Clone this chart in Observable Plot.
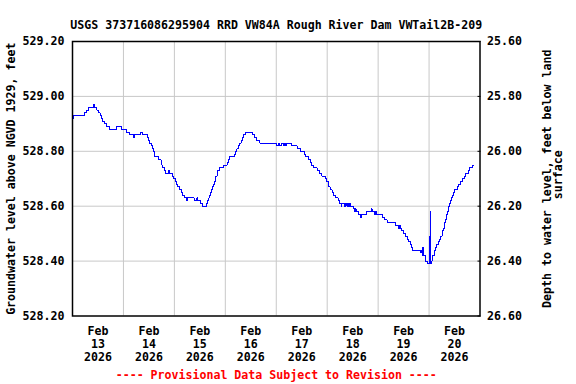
<!DOCTYPE html>
<html><head><meta charset="utf-8">
<script src="https://cdn.jsdelivr.net/npm/d3@7"></script>
<script src="https://cdn.jsdelivr.net/npm/@observablehq/plot@0.6"></script>
<style>body{margin:0;background:#fff}</style>
</head><body><div id="chart"></div>
<script>
const title = "USGS 373716086295904 RRD VW84A Rough River Dam VWTail2B-209";
const leftLabel = "Groundwater level above NGVD 1929, feet";
const rightLabel1 = "Depth to water level, feet below land";
const rightLabel2 = "surface";
const footer = "---- Provisional Data Subject to Revision ----";
const levelTicks = [528.2, 528.4, 528.6, 528.8, 529.0, 529.2];
const depthTickLabels = ["26.60", "26.40", "26.20", "26.00", "25.80", "25.60"];
const dayLabels = ["Feb\n13\n2026", "Feb\n14\n2026", "Feb\n15\n2026", "Feb\n16\n2026",
                   "Feb\n17\n2026", "Feb\n18\n2026", "Feb\n19\n2026", "Feb\n20\n2026"];

// hours since 2026-02-13 00:00 and groundwater level (ft above NGVD 1929)
const hours = [0, 0.3, 5.5, 6.5, 7.6, 10.0, 10.5, 11.5, 12.3, 13.0, 13.5, 14.2, 15.2, 16.2, 17.5,
  20.6, 23.3, 25.3, 26.9, 28.6, 29.0, 31.9, 33.2, 35.4, 35.9, 36.3, 37.0, 37.6, 38.2, 38.5, 38.8,
  40.6, 41.7, 42.1, 42.6, 43.4, 43.7, 45.4, 45.7, 46.9, 47.6, 48.4, 48.9, 49.5, 50.5, 51.2, 52.0,
  52.7, 53.8, 54.0, 57.4, 58.6, 59.0, 60.2, 61.3, 63.0, 63.6, 64.2, 64.6, 64.9, 65.4, 65.9, 66.5,
  67.0, 67.3, 67.6, 68.1, 68.5, 69.3, 71.2, 72.8, 73.4, 74.0, 76.2, 76.9, 77.5, 78.1, 78.8, 79.4,
  80.0, 80.7, 81.7, 84.9, 85.8, 86.9, 88.2, 96.3, 97.0, 97.6, 98.6, 99.5, 99.8, 100.5, 101.0, 103.4,
  105.8, 107.4, 109.2, 110.0, 111.3, 112.0, 112.4, 112.6, 112.8, 113.6, 115.2, 116.4, 117.5, 119.2,
  119.9, 120.4, 120.7, 121.5, 122.3, 123.0, 124.0, 125.1, 125.8, 126.6, 126.9, 128.3, 128.8, 129.3,
  129.8, 130.2, 130.5, 131.0, 132.5, 133.0, 133.3, 133.6, 134.9, 135.8, 136.0, 138.6, 140.9, 141.2,
  142.4, 142.8, 143.2, 146.0, 147.1, 148.2, 152.4, 153.5, 154.0, 154.5, 155.0, 156.1, 156.9, 157.7,
  158.4, 159.1, 159.6, 160.0, 164.0, 164.4, 164.7, 165.0, 165.2, 166.3, 167.1, 168.2, 168.3, 168.8,
  168.9, 169.1, 169.4, 169.7, 170.4, 170.7, 171.0, 171.6, 172.3, 172.9, 173.5, 174.1, 174.4, 174.6,
  175.1, 175.4, 175.7, 176.0, 176.3, 176.6, 177.0, 177.3, 177.6, 178.1, 178.5, 179.2, 179.5, 179.8,
  181.2, 182.0, 182.8, 183.6, 184.8, 185.4, 186.4, 187.0, 188.6, 189.3];
const levels = [528.92, 528.93, 528.94, 528.95, 528.96, 528.97, 528.96, 528.95, 528.94, 528.93, 528.92, 528.91, 528.90, 528.89, 528.88,
  528.89, 528.88, 528.87, 528.86, 528.85, 528.86, 528.87, 528.86, 528.85, 528.84, 528.83, 528.82, 528.81, 528.80, 528.79, 528.78,
  528.77, 528.76, 528.75, 528.74, 528.73, 528.72, 528.73, 528.72, 528.71, 528.70, 528.69, 528.68, 528.67, 528.66, 528.65, 528.64,
  528.63, 528.62, 528.63, 528.62, 528.63, 528.62, 528.61, 528.60, 528.61, 528.62, 528.63, 528.64, 528.65, 528.66, 528.67, 528.68,
  528.69, 528.70, 528.71, 528.72, 528.73, 528.74, 528.75, 528.76, 528.77, 528.78, 528.79, 528.80, 528.81, 528.82, 528.83, 528.84,
  528.85, 528.86, 528.87, 528.86, 528.85, 528.84, 528.83, 528.82, 528.83, 528.82, 528.83, 528.82, 528.83, 528.82, 528.83, 528.82,
  528.81, 528.80, 528.79, 528.78, 528.77, 528.76, 528.75, 528.76, 528.75, 528.74, 528.73, 528.72, 528.71, 528.70,
  528.69, 528.68, 528.67, 528.66, 528.65, 528.64, 528.63, 528.62, 528.61, 528.60, 528.61, 528.60, 528.61, 528.60,
  528.61, 528.60, 528.61, 528.60, 528.59, 528.58, 528.59, 528.58, 528.57, 528.56, 528.57, 528.58, 528.59, 528.58,
  528.57, 528.58, 528.57, 528.56, 528.55, 528.54, 528.53, 528.52, 528.53, 528.52, 528.51, 528.50, 528.49, 528.48,
  528.47, 528.46, 528.45, 528.44, 528.43, 528.44, 528.42, 528.45, 528.42, 528.40, 528.39, 528.49, 528.39, 528.58,
  528.39, 528.40, 528.41, 528.42, 528.43, 528.44, 528.45, 528.46, 528.47, 528.48, 528.49, 528.50, 528.51, 528.52,
  528.53, 528.54, 528.55, 528.56, 528.57, 528.58, 528.59, 528.60, 528.61, 528.62, 528.63, 528.64, 528.65, 528.66,
  528.67, 528.68, 528.69, 528.70, 528.71, 528.72, 528.73, 528.74, 528.75, 528.75];

const t0 = Date.UTC(2026, 1, 13);
const data = hours.map((h, i) => ({date: new Date(t0 + h * 3600000), level: levels[i]}));
const dayStarts = d3.range(0, 9).map(d => new Date(t0 + d * 86400000));
const dayNoons = d3.range(0, 8).map(d => new Date(t0 + (d + 0.5) * 86400000));

const chart = Plot.plot({
  width: 576, height: 384,
  marginLeft: 72, marginRight: 96.5, marginTop: 41, marginBottom: 68.5,
  style: {fontFamily: "'DejaVu Sans Mono', monospace", fontWeight: "bold", fontSize: "11.6px", background: "#fff", color: "#000"},
  x: {type: "utc", domain: [dayStarts[0], dayStarts[8]], axis: null},
  y: {domain: [528.2, 529.2]},
  marks: [
    Plot.gridX(dayStarts.slice(1, 8), {stroke: "#c8c8c8", strokeOpacity: 1}),
    Plot.gridY(levelTicks.slice(1, 5), {stroke: "#c8c8c8", strokeOpacity: 1}),
    Plot.line(data, {x: "date", y: "level", curve: "step-after", stroke: "#0000ff", strokeWidth: 1,
      shapeRendering: "crispEdges"}),
    Plot.frame({stroke: "#000", strokeWidth: 1.5}),
    Plot.axisY(levelTicks, {anchor: "left", tickSize: 0, tickPadding: 8, tickFormat: d => d.toFixed(2), label: null}),
    Plot.axisY(levelTicks, {anchor: "right", tickSize: -3, tickPadding: 10,
      tickFormat: d => depthTickLabels[levelTicks.indexOf(d)], label: null}),
    Plot.text(dayNoons, {x: d => d, frameAnchor: "bottom", text: (d, i) => dayLabels[i],
      lineAnchor: "top", dy: 10, lineHeight: 1.12}),
    Plot.text([title], {frameAnchor: "top", text: d => d, dy: -21}),
    Plot.text([footer], {frameAnchor: "bottom", text: d => d, dy: 62.5, fill: "#ff0000"}),
    Plot.text([leftLabel], {frameAnchor: "left", textAnchor: "middle", text: d => d, dx: -61, rotate: -90}),
    Plot.text([rightLabel1], {frameAnchor: "right", textAnchor: "middle", text: d => d, dx: 67, rotate: -90}),
    Plot.text([rightLabel2], {frameAnchor: "right", textAnchor: "middle", text: d => d, dx: 78, dy: -4, rotate: -90})
  ]
});
document.getElementById("chart").appendChild(chart);
</script>
</body></html>
